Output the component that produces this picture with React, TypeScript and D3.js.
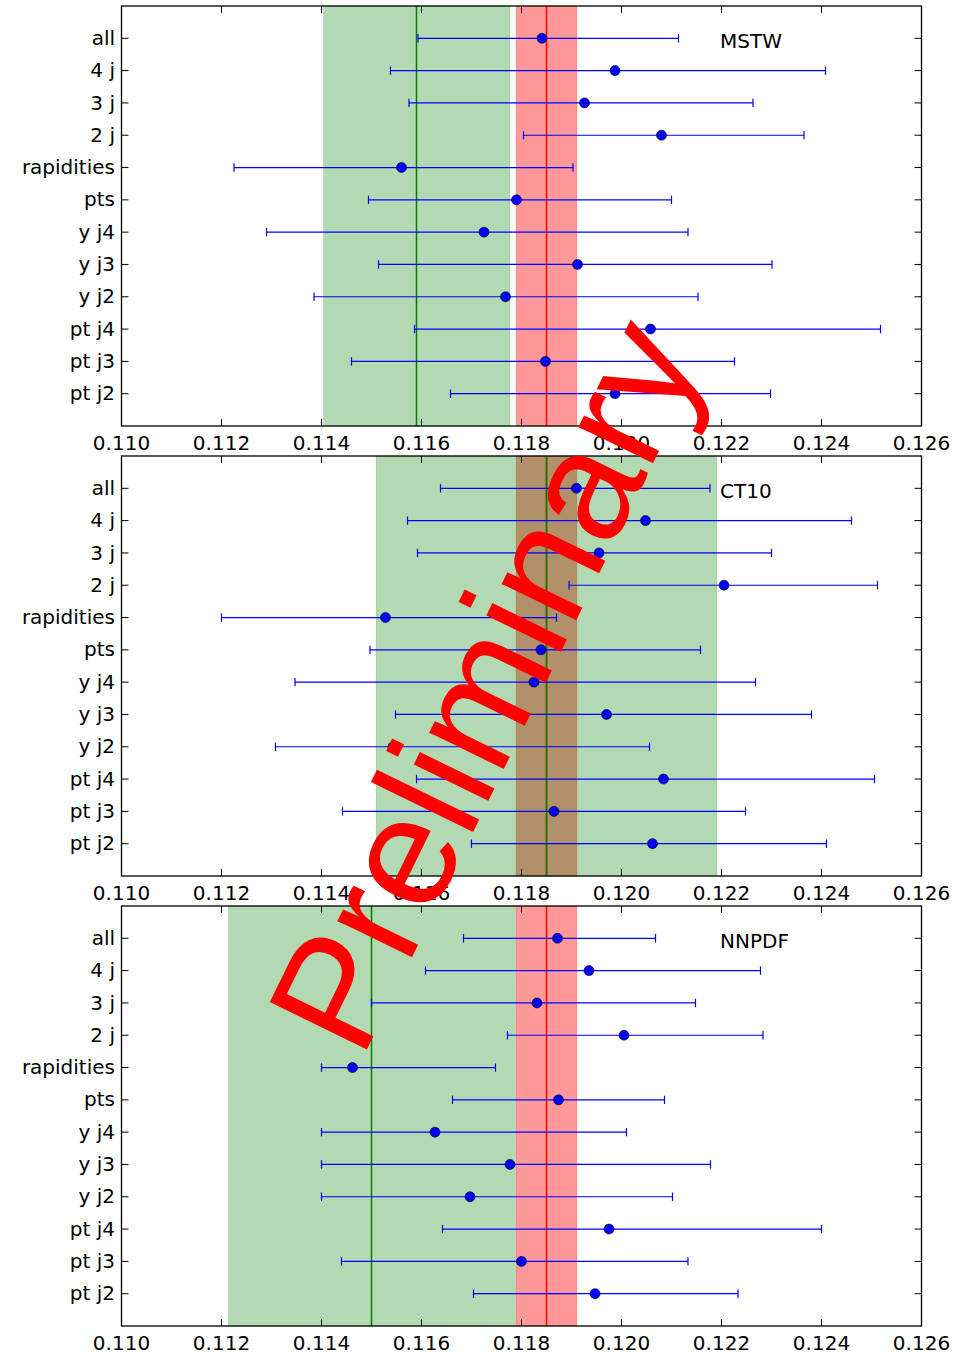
import React from "react";
import * as d3 from "d3";

const categories = ["all", "4 j", "3 j", "2 j", "rapidities", "pts", "y j4", "y j3", "y j2", "pt j4", "pt j3", "pt j2"];
const xTicks = [0.110, 0.112, 0.114, 0.116, 0.118, 0.120, 0.122, 0.124, 0.126];

const panelNames = ["MSTW", "CT10", "NNPDF"];

const mstwValues = [0.11841, 0.11987, 0.11926, 0.1208, 0.1156, 0.1179, 0.11725, 0.11912, 0.11768, 0.12058, 0.11848, 0.11987];
const mstwLow = [0.11593, 0.11538, 0.11575, 0.11804, 0.11225, 0.11494, 0.1129, 0.11514, 0.11385, 0.11586, 0.1146, 0.11658];
const mstwHigh = [0.12114, 0.12408, 0.12263, 0.12365, 0.11903, 0.121, 0.12133, 0.12301, 0.12153, 0.12518, 0.12226, 0.12298];

const ct10Values = [0.1191, 0.12048, 0.11955, 0.12205, 0.11528, 0.11839, 0.11825, 0.1197, 0.11543, 0.12084, 0.11865, 0.12062];
const ct10Low = [0.11638, 0.11572, 0.11592, 0.11895, 0.112, 0.11497, 0.11347, 0.11548, 0.11308, 0.1159, 0.11442, 0.117];
const ct10High = [0.12177, 0.1246, 0.123, 0.12512, 0.1187, 0.12158, 0.12268, 0.1238, 0.12056, 0.12506, 0.12248, 0.1241];

const nnpdfValues = [0.11872, 0.11935, 0.11831, 0.12005, 0.11462, 0.11874, 0.11627, 0.11777, 0.11697, 0.11975, 0.118, 0.11947];
const nnpdfLow = [0.11684, 0.11608, 0.115, 0.11772, 0.114, 0.11662, 0.114, 0.114, 0.114, 0.11642, 0.1144, 0.11704];
const nnpdfHigh = [0.12068, 0.12278, 0.12148, 0.12283, 0.11748, 0.12086, 0.1201, 0.12178, 0.12102, 0.124, 0.12133, 0.12233];

// fit result per PDF set: central value and band edges
const greenCentral = [0.1159, 0.1185, 0.115];
const greenLow = [0.11404, 0.11509, 0.11214];
const greenHigh = [0.11777, 0.12191, 0.11788];

// world average band
const refCentral = 0.1185;
const refLow = 0.11789;
const refHigh = 0.11911;

const WIDTH = 964;
const HEIGHT = 1353;

export default function App() {
  const svgRef = React.useRef(null);

  React.useEffect(() => {
    const svgEl = d3.select(svgRef.current);
    svgEl.selectAll("*").remove();

    const margin = { left: 121.5, right: 42.5 };
    const panelTops = [6, 456, 906];
    const panelH = 420;
    const font = "'DejaVu Sans', 'Bitstream Vera Sans', sans-serif";

    const panels = [
      { values: mstwValues, low: mstwLow, high: mstwHigh },
      { values: ct10Values, low: ct10Low, high: ct10High },
      { values: nnpdfValues, low: nnpdfLow, high: nnpdfHigh },
    ];

    var xScale = d3
      .scaleLinear()
      .domain([0.11, 0.126])
      .range([margin.left, WIDTH - margin.right]);

    panels.forEach((p, k) => {
      const top = panelTops[k];
      const yScale = d3.scaleLinear().domain([0, 13]).range([top, top + panelH]);
      const g = svgEl.append("g");
      const x0 = xScale(0.11);
      const x1 = xScale(0.126);

      g.append("rect")
        .attr("x", x0)
        .attr("y", top)
        .attr("width", x1 - x0)
        .attr("height", panelH)
        .attr("fill", "#fff");

      /* reference band + line */
      g.append("rect")
        .attr("x", xScale(refLow))
        .attr("y", top)
        .attr("width", xScale(refHigh) - xScale(refLow))
        .attr("height", panelH)
        .attr("fill", "rgb(255,0,0)")
        .attr("fill-opacity", 0.4)
        .attr("stroke", "rgb(255,0,0)")
        .attr("stroke-opacity", 0.15);
      g.append("line")
        .attr("x1", xScale(refCentral))
        .attr("x2", xScale(refCentral))
        .attr("y1", top)
        .attr("y2", top + panelH)
        .attr("stroke", "red")
        .attr("stroke-width", 1.5);

      /* fit band + line */
      g.append("rect")
        .attr("x", xScale(greenLow[k]))
        .attr("y", top)
        .attr("width", xScale(greenHigh[k]) - xScale(greenLow[k]))
        .attr("height", panelH)
        .attr("fill", "rgb(0,128,0)")
        .attr("fill-opacity", 0.3)
        .attr("stroke", "rgb(0,128,0)")
        .attr("stroke-opacity", 0.12);
      g.append("line")
        .attr("x1", xScale(greenCentral[k]))
        .attr("x2", xScale(greenCentral[k]))
        .attr("y1", top)
        .attr("y2", top + panelH)
        .attr("stroke", "green")
        .attr("stroke-width", 1.5);

      /* error bars */
      const bars = g.append("g").attr("stroke", "#0000ff").attr("stroke-width", 1.2);
      categories.forEach((c, i) => {
        const y = yScale(i + 1);
        bars.append("line")
          .attr("x1", xScale(p.low[i]))
          .attr("x2", xScale(p.high[i]))
          .attr("y1", y)
          .attr("y2", y);
        [p.low[i], p.high[i]].forEach((v) => {
          bars.append("line")
            .attr("x1", xScale(v))
            .attr("x2", xScale(v))
            .attr("y1", y - 4.2)
            .attr("y2", y + 4.2);
        });
      });

      g.selectAll(".dot")
        .data(p.values)
        .enter()
        .append("circle")
        .attr("cx", (d) => xScale(d))
        .attr("cy", (d, i) => yScale(i + 1))
        .attr("r", 5)
        .attr("fill", "#0000ff")
        .attr("stroke", "#000")
        .attr("stroke-width", 0.6);

      /* frame and ticks */
      g.append("rect")
        .attr("x", x0)
        .attr("y", top)
        .attr("width", x1 - x0)
        .attr("height", panelH)
        .attr("fill", "none")
        .attr("stroke", "#000")
        .attr("stroke-width", 1.3);

      const ticks = g.append("g").attr("stroke", "#000").attr("stroke-width", 1);
      xTicks.forEach((t) => {
        const x = xScale(t);
        ticks.append("line").attr("x1", x).attr("x2", x).attr("y1", top).attr("y2", top + 7);
        ticks.append("line").attr("x1", x).attr("x2", x).attr("y1", top + panelH).attr("y2", top + panelH - 7);
        g.append("text")
          .attr("x", x)
          .attr("y", top + panelH + 24.3)
          .attr("text-anchor", "middle")
          .attr("font-family", font)
          .attr("font-size", 20)
          .attr("fill", "#000")
          .text(d3.format(".3f")(t));
      });
      categories.forEach((c, i) => {
        const y = yScale(i + 1);
        ticks.append("line").attr("x1", x0).attr("x2", x0 + 7).attr("y1", y).attr("y2", y);
        ticks.append("line").attr("x1", x1).attr("x2", x1 - 7).attr("y1", y).attr("y2", y);
        g.append("text")
          .attr("x", x0 - 6.5)
          .attr("y", y + 6.6)
          .attr("text-anchor", "end")
          .attr("font-family", font)
          .attr("font-size", 20)
          .attr("fill", "#000")
          .text(c);
      });

      g.append("text")
        .attr("x", 720)
        .attr("y", top + 42.3)
        .attr("font-family", font)
        .attr("font-size", 20)
        .attr("fill", "#000")
        .text(panelNames[k]);
    });

    /* watermark */
    svgEl
      .append("text")
      .attr("transform", "translate(361.3,1061.1) rotate(-64)")
      .attr("font-family", "'Liberation Sans', Arial, sans-serif")
      .attr("font-size", 157)
      .attr("fill", "red")
      .text("Preliminary");
  }, []);

  return (
    <svg
      ref={svgRef}
      width={WIDTH}
      height={HEIGHT}
      style={{ position: "absolute", left: 0, top: 0, background: "#fff" }}
    />
  );
}
